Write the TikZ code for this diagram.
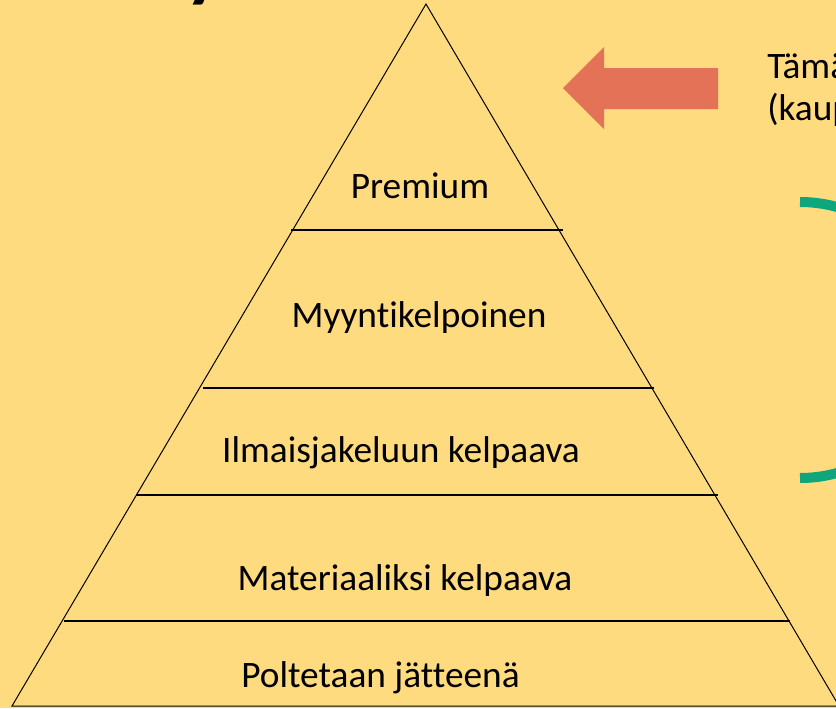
\documentclass[tikz,border=0pt]{standalone}
\usepackage{fontspec}
\setmainfont{Carlito}[RawFeature=-liga]
\definecolor{bg}{RGB}{255,219,127}
\definecolor{arrowred}{RGB}{227,114,86}
\definecolor{arcgreen}{RGB}{14,166,124}
\tikzset{
  lvl/.style={anchor=base, inner sep=0pt, font=\fontsize{28}{33}\selectfont},
  sidetext/.style={anchor=base west, inner sep=0pt, font=\fontsize{28}{33}\selectfont},
  divider/.style={line width=1.5pt},
  pyr/.style={line width=0.75pt, line join=miter}
}
\begin{document}
\begin{tikzpicture}[x=0.75pt,y=-0.75pt]
\useasboundingbox (0,0) rectangle (836,708);
\clip (0,0) rectangle (836,708);
\fill[bg] (0,0) rectangle (836,708);
% cut title letter
\node[anchor=base, inner sep=0pt, font=\fontsize{60}{70}\selectfont\bfseries] (title) at (204,-8) {y};
% pyramid
\coordinate (apex) at (426,4);
\coordinate (bl) at (12,706);
\coordinate (br) at (839,706);
\draw[pyr] (bl) -- (apex) -- (br) -- cycle;
% dividers
\coordinate (d1l) at (291,230); \coordinate (d1r) at (563,230);
\coordinate (d2l) at (203,388); \coordinate (d2r) at (654,388);
\coordinate (d3l) at (136,495); \coordinate (d3r) at (718,495);
\coordinate (d4l) at (64,621);  \coordinate (d4r) at (790,621);
\draw[divider] (d1l) -- (d1r);
\draw[divider] (d2l) -- (d2r);
\draw[divider] (d3l) -- (d3r);
\draw[divider] (d4l) -- (d4r);
% labels
\node[lvl] (l1) at (420,198) {Premium};
\node[lvl] (l2) at (419,327) {Myyntikelpoinen};
\node[lvl] (l3) at (401,462) {Ilmaisjakeluun kelpaava};
\node[lvl] (l4) at (405,590) {Materiaaliksi kelpaava};
\node[lvl] (l5) at (380.5,687) {Poltetaan jätteenä};
% red block arrow
\fill[arrowred] (563,88) -- (604,47) -- (604,68) -- (718,68) -- (718,109) -- (604,109) -- (604,129) -- cycle;
% side text
\node[sidetext] (t1) at (767,78) {Tämä};
\node[sidetext] (t2) at (767,120) {(kaup};
% green arc
\draw[arcgreen, line width=7.5pt] (800,202) arc[start angle=-90, end angle=90, radius=138];
\end{tikzpicture}
\end{document}
